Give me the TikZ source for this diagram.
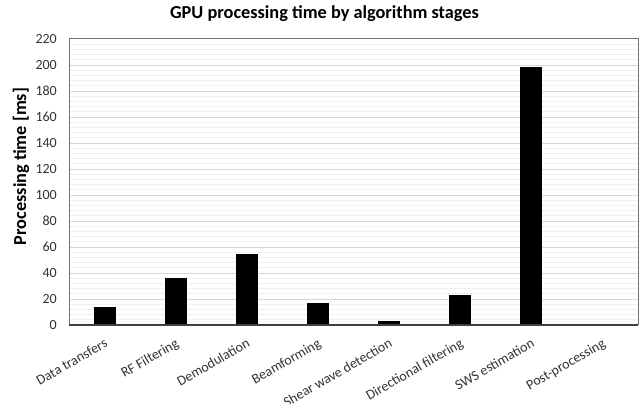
\documentclass[tikz,border=0pt]{standalone}
\usepackage{fontspec}
\setmainfont{Carlito}
\begin{document}
\begin{tikzpicture}[x=1pt,y=1pt,
  titlestyle/.style={font=\fontsize{18.3}{22}\selectfont\bfseries, inner sep=0, anchor=base},
  axlabel/.style={font=\fontsize{18.3}{22}\selectfont\bfseries, inner sep=0, anchor=base, rotate=90},
  ticklab/.style={font=\fontsize{14}{16}\selectfont, anchor=east, inner sep=0, text=black!80},
  catlab/.style={font=\fontsize{14}{16}\selectfont, anchor=base east, rotate=30, inner sep=0, text=black!80},
  barstyle/.style={fill=black, draw=none},
  minorgrid/.style={draw=black!6, line width=0.8pt},
  majorgrid/.style={draw=black!16, line width=0.9pt},
  framestyle/.style={draw=black!55, line width=1pt},
  axisline/.style={draw=black!75, line width=1.2pt}]
\useasboundingbox (0,0) rectangle (641,404);
\fill[white] (0,0) rectangle (641,404);
% grid
\foreach \v in {4,8,...,216} \draw[minorgrid] (69,79+1.3*\v) -- (638,79+1.3*\v);
\foreach \v in {20,40,...,200} \draw[majorgrid] (69,79+1.3*\v) -- (638,79+1.3*\v);
% bars
\foreach \i/\val in {1/14,2/36.4,3/54.4,4/16.7,5/3.3,6/22.8,7/198.7,8/0.6}
  \fill[barstyle] ({69+(\i-0.5)*71.125-11},79) rectangle ({69+(\i-0.5)*71.125+11},{79+1.3*\val});
% frame
\draw[framestyle] (69,79) rectangle (638,365);
\draw[axisline] (69,79) -- (638,79);
% tick labels
\foreach \v in {0,20,...,220} \node[ticklab] (t\v) at (57,79+1.3*\v) {\v};
% category labels
\foreach \i/\lab in {1/Data transfers,2/RF Filtering,3/Demodulation,4/Beamforming,5/Shear wave detection,6/Directional filtering,7/SWS estimation,8/Post-processing}
  \node[catlab] (c\i) at ({69+(\i-0.5)*71.125+4},58) {\lab};
% titles
\node[titlestyle] (title) at (324.5,385) {GPU processing time by algorithm stages};
\node[axlabel] (ylab) at (26,237.5) {Processing time [ms]};
\end{tikzpicture}
\end{document}
